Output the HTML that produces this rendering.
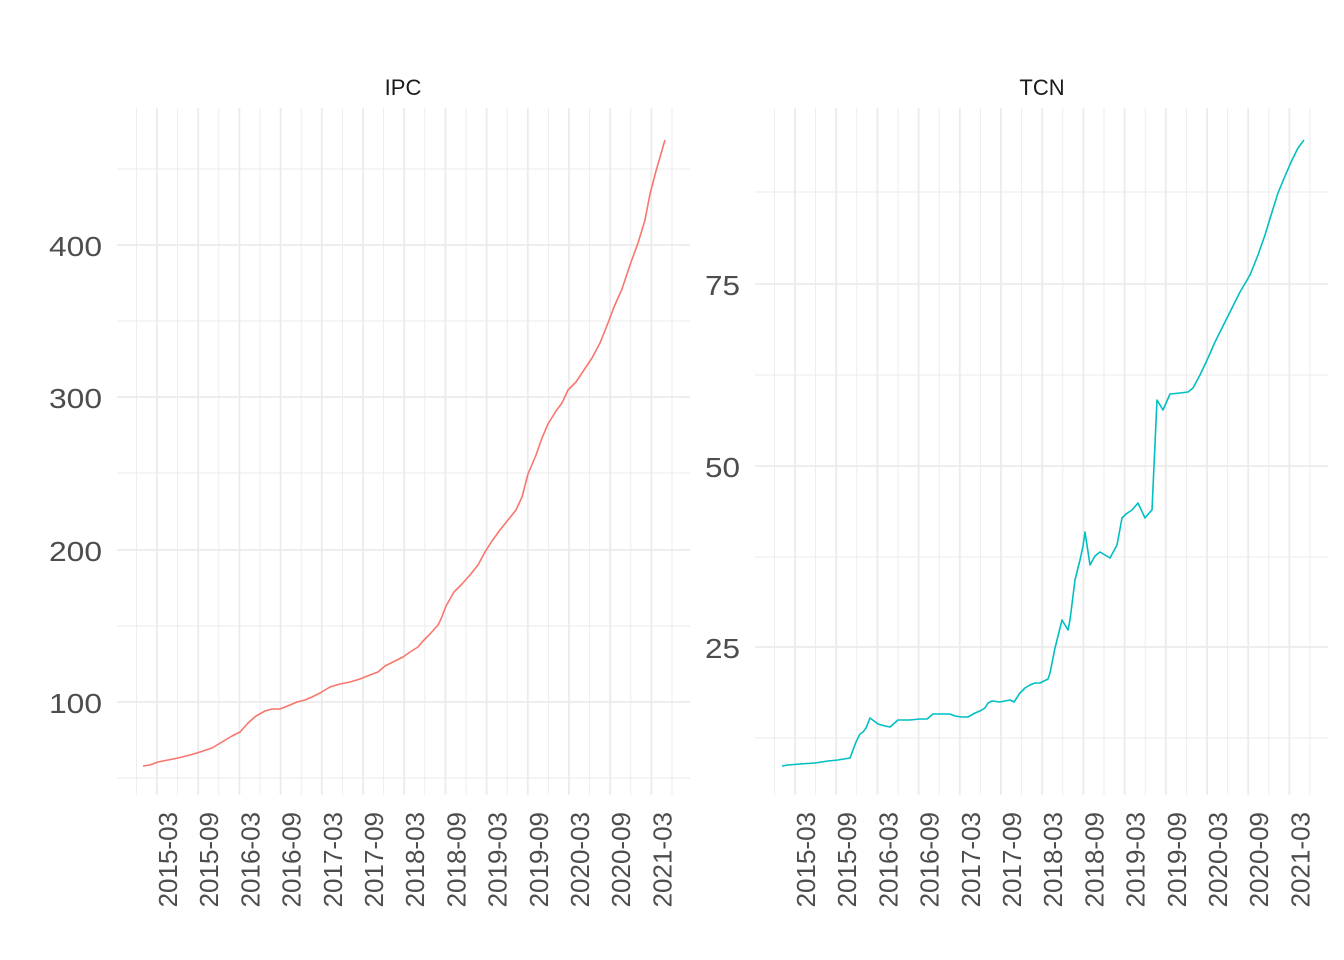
<!DOCTYPE html>
<html><head><meta charset="utf-8"><style>
html,body{margin:0;padding:0;background:#fff}
svg{display:block;font-family:"Liberation Sans",Arial,sans-serif}
</style></head><body>
<svg width="1344" height="960" viewBox="0 0 1344 960" xmlns="http://www.w3.org/2000/svg">
<rect width="1344" height="960" fill="#fff"/>
<g id="grid"></g>
<polyline fill="none" stroke="#F8766D" stroke-width="1.6" stroke-linejoin="round" points="143,766 150,765 158,762 168,760 178,758 190,755 200,752 212,748 222,742 232,736 240,732 248,723 256,716 265,711 272,709 280,709 290,705 297,702 305,700 312,697 320,693 330,687 340,684 350,682 360,679 370,675 378,672 385,666 395,661 403,657 410,652 418,647 423,641 430,634 438,625 441,619 446,606 454,592 462,584 470,575 478,565 485,552 492,541 500,530 508,520 516,510 522,497 528,474 536,455 542,438 548,424 556,411 562,403 568,390 576,382 584,370 592,358 600,343 608,323 614,307 622,289 630,265 638,243 645,220 650,194 656,171 665,140"/>
<polyline fill="none" stroke="#00BFC4" stroke-width="1.6" stroke-linejoin="round" points="782,766 788,765 800,764 815,763 828,761 838,760 850,758 856,742 860,734 863,732 866,728 870,718 878,724 885,726 890,727 898,720 910,720 920,719 927,719 933,714 942,714 950,714 955,716 962,717 968,717 975,713 980,711 985,708 988,703 992,701 1000,702 1005,701 1010,700 1014,702 1020,693 1025,688 1030,685 1035,683 1040,683 1048,679 1050,673 1055,648 1062,620 1068,630 1070,620 1075,580 1080,560 1083,546 1085,532 1090,565 1095,556 1100,552 1110,558 1117,545 1122,518 1126,514 1132,510 1138,503 1145,518 1150,512 1152,510 1157,400 1163,410 1170,394 1180,393 1188,392 1193,388 1200,375 1208,358 1215,342 1225,322 1240,292 1250,275 1258,255 1265,235 1272,212 1278,193 1285,176 1292,160 1298,148 1304,140"/>
<g font-size="22" fill="#1a1a1a" text-anchor="middle">
<text x="403" y="95">IPC</text>
<text x="1042" y="95">TCN</text>
</g>
<g font-size="28" fill="#4d4d4d" text-anchor="end">
<text x="102" y="256" textLength="53" lengthAdjust="spacingAndGlyphs">400</text>
<text x="102" y="408" textLength="53" lengthAdjust="spacingAndGlyphs">300</text>
<text x="102" y="561" textLength="53" lengthAdjust="spacingAndGlyphs">200</text>
<text x="102" y="713" textLength="53" lengthAdjust="spacingAndGlyphs">100</text>
<text x="740" y="295" textLength="35" lengthAdjust="spacingAndGlyphs">75</text>
<text x="740" y="477" textLength="35" lengthAdjust="spacingAndGlyphs">50</text>
<text x="740" y="658" textLength="35" lengthAdjust="spacingAndGlyphs">25</text>
</g>
<g id="xl" font-size="26" fill="#4d4d4d" text-anchor="end"></g>
<script>
var ns="http://www.w3.org/2000/svg",g=document.getElementById('grid'),xl=document.getElementById('xl');
function ln(x1,y1,x2,y2,w){var l=document.createElementNS(ns,'line');l.setAttribute('x1',x1);l.setAttribute('y1',y1);l.setAttribute('x2',x2);l.setAttribute('y2',y2);l.setAttribute('stroke','#ebebeb');l.setAttribute('stroke-width',w);g.appendChild(l);}
var labs=['2015-03','2015-09','2016-03','2016-09','2017-03','2017-09','2018-03','2018-09','2019-03','2019-09','2020-03','2020-09','2021-03'];
[0,638].forEach(function(o){
 for(var i=-1;i<13;i++){var x=157+o+i*41.2;ln(x+20.6,108,x+20.6,795,0.9);}
 for(var i=0;i<13;i++){var x=157+o+i*41.2;ln(x,108,x,795,1.8);
  var t=document.createElementNS(ns,'text');t.setAttribute('transform','translate('+(x+20)+',812) rotate(-90)');t.textContent=labs[i];xl.appendChild(t);}
});
[169,321,473,626,778].forEach(function(y){ln(117,y,690,y,0.9);});
[245,397,550,702].forEach(function(y){ln(117,y,690,y,1.8);});
[192,375,557,738].forEach(function(y){ln(755,y,1328,y,0.9);});
[284,466,647].forEach(function(y){ln(755,y,1328,y,1.8);});
</script>
</svg>
</body></html>
